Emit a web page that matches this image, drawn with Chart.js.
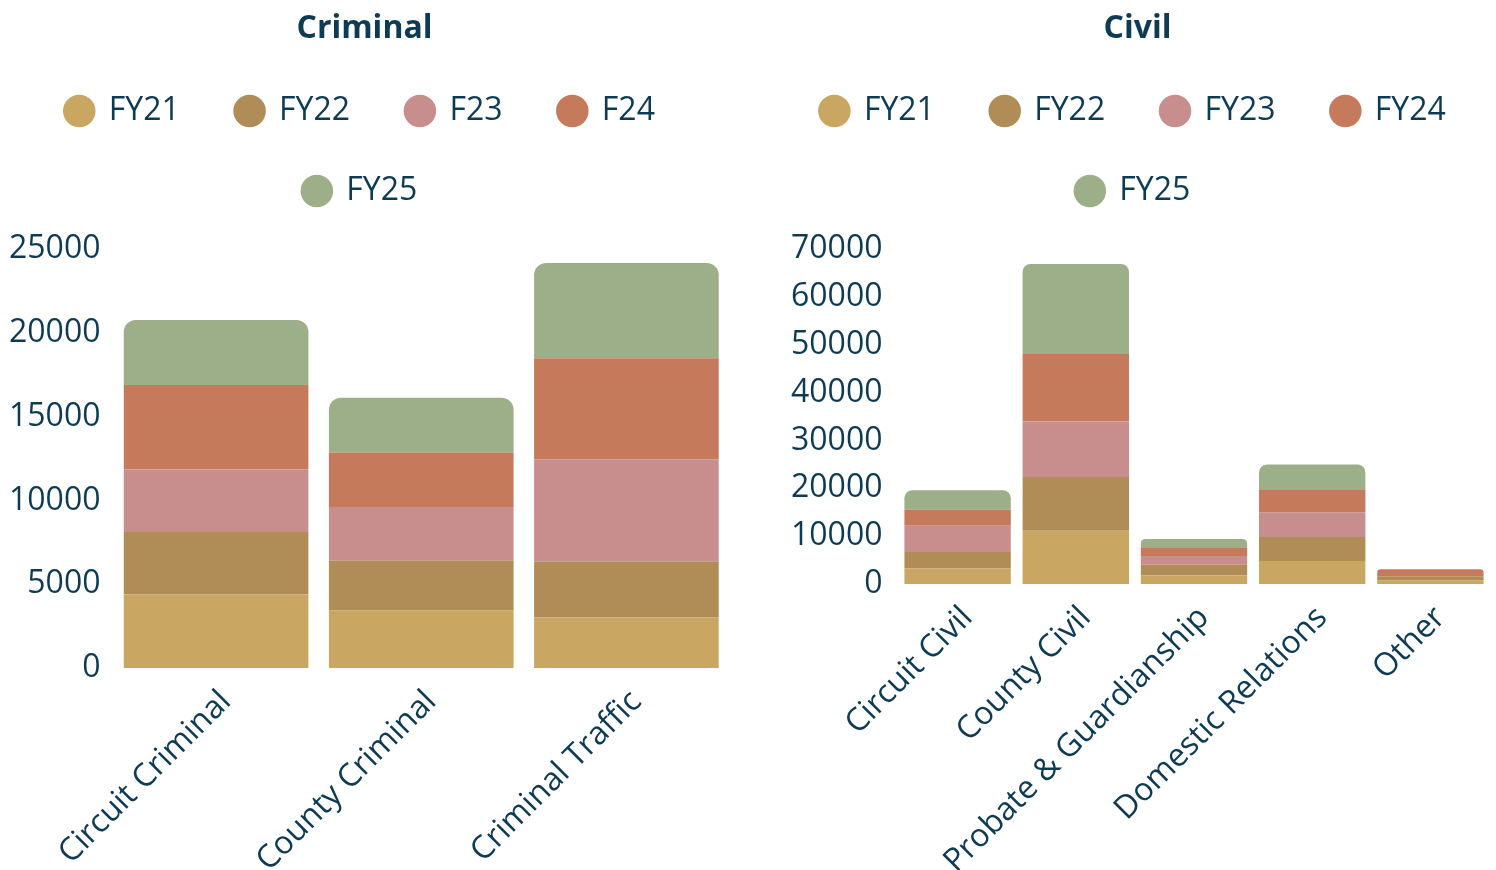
<!DOCTYPE html>
<html>
<head>
<meta charset="utf-8">
<title>Criminal and Civil filings</title>
<script src="https://cdn.jsdelivr.net/npm/chart.js@4.4.1/dist/chart.umd.min.js"></script>
<style>
  html, body {
    margin: 0;
    padding: 0;
    background: #ffffff;
    overflow: hidden;
  }
  .chart-box {
    position: absolute;
    top: 0;
    height: 870px;
  }
  #criminal-box {
    left: 0;
    width: 729px;
  }
  #civil-box {
    left: 771px;
    width: 733px;
  }
</style>
</head>
<body>
<div class="chart-box" id="criminal-box"><canvas id="criminal-chart"></canvas></div>
<div class="chart-box" id="civil-box"><canvas id="civil-chart"></canvas></div>

<script>
// Criminal caseload by fiscal year
const criminalCategories = ["Circuit Criminal", "County Criminal", "Criminal Traffic"]
const criminalLabels = ["FY21", "FY22", "F23", "F24", "FY25"]
const criminalFY21 = [4380, 3440, 3020]
const criminalFY22 = [3740, 2960, 3320]
const criminalFY23 = [3730, 3200, 6100]
const criminalFY24 = [5030, 3260, 6040]
const criminalFY25 = [3880, 3260, 5680]

// Civil caseload by fiscal year
const civilCategories = [
  "Circuit Civil",
  "County Civil",
  "Probate & Guardianship",
  "Domestic Relations",
  "Other",
]
const civilLabels = ["FY21", "FY22", "FY23", "FY24", "FY25"]
const civilFY21 = [3260, 11140, 1800, 4830, 800]
const civilFY22 = [3440, 11210, 2200, 4990, 830]
const civilFY23 = [5470, 11620, 1870, 5180, 0]
const civilFY24 = [3330, 14110, 1660, 4780, 1450]
const civilFY25 = [4100, 18800, 1870, 5200, 0]

const yearColors = ["#c9a762", "#b08c57", "#c78e8d", "#c67a5c", "#9daf88"]
const textColor = "#0d3b54"

Chart.defaults.font.family = "'Open Sans', sans-serif"
Chart.defaults.font.size = 32
Chart.defaults.color = textColor

// Leave some room between the legend and the plot
const legendSpacing = {
  id: "legendSpacing",
  beforeInit(chart) {
    const originalFit = chart.legend.fit
    chart.legend.fit = function fit() {
      originalFit.bind(chart.legend)()
      this.height += 32
    }
  },
}

/**
 * Build the stacked datasets for one chart
 */
function buildDatasets(labels, series, radius) {
  return series.map((values, i) => ({
    label: labels[i],
    data: values,
    backgroundColor: yearColors[i],
    borderWidth: 0,
    borderRadius: radius,
    categoryPercentage: 1,
    barPercentage: 0.9,
  }))
}

/**
 * Create one stacked bar chart
 * frame keeps both plots lined up: axis sizes, tick padding, right gap
 */
function makeChart(canvasId, title, categories, datasets, yMax, yStep, frame) {
  const ctx = document.getElementById(canvasId).getContext("2d")
  return new Chart(ctx, {
    type: "bar",
    data: {
      labels: categories,
      datasets: datasets,
    },
    plugins: [legendSpacing],
    options: {
      responsive: true,
      maintainAspectRatio: false,
      animation: false,
      layout: {
        padding: 0,
      },
      plugins: {
        title: {
          display: true,
          text: title,
          color: textColor,
          font: { size: 32, weight: "bold", lineHeight: 1 },
          padding: { top: 13, bottom: 2 },
        },
        legend: {
          position: "top",
          labels: {
            usePointStyle: true,
            pointStyle: "circle",
            boxWidth: 27,
            boxHeight: 23,
            padding: 48,
            color: textColor,
            font: { size: 32 },
            generateLabels(chart) {
              const items = Chart.defaults.plugins.legend.labels.generateLabels(chart)
              items.forEach((item) => {
                item.text = item.text + " "
              })
              return items
            },
          },
        },
        tooltip: {
          enabled: false,
        },
      },
      scales: {
        x: {
          stacked: true,
          grid: { display: false },
          border: { display: false },
          afterFit(scale) {
            scale.height = frame.xAxisHeight
            scale.paddingRight = frame.rightGap
          },
          ticks: {
            minRotation: 45,
            maxRotation: 45,
            autoSkip: false,
            labelOffset: 10,
            padding: 7,
          },
        },
        y: {
          stacked: true,
          min: 0,
          max: yMax,
          grid: { display: false },
          border: { display: false },
          afterFit(scale) {
            scale.width = frame.yAxisWidth
          },
          ticks: {
            stepSize: yStep,
            padding: frame.yTickPadding,
            callback: (value) => String(value),
          },
        },
      },
    },
  })
}

makeChart(
  "criminal-chart",
  "Criminal",
  criminalCategories,
  buildDatasets(
    criminalLabels,
    [criminalFY21, criminalFY22, criminalFY23, criminalFY24, criminalFY25],
    12
  ),
  25000,
  5000,
  { yAxisWidth: 113.5, xAxisHeight: 202, rightGap: 0, yTickPadding: 5 }
)

makeChart(
  "civil-chart",
  "Civil",
  civilCategories,
  buildDatasets(
    civilLabels,
    [civilFY21, civilFY22, civilFY23, civilFY24, civilFY25],
    8
  ),
  70000,
  10000,
  { yAxisWidth: 127.5, xAxisHeight: 286, rightGap: 14.5, yTickPadding: 8 }
)
</script>
</body>
</html>
